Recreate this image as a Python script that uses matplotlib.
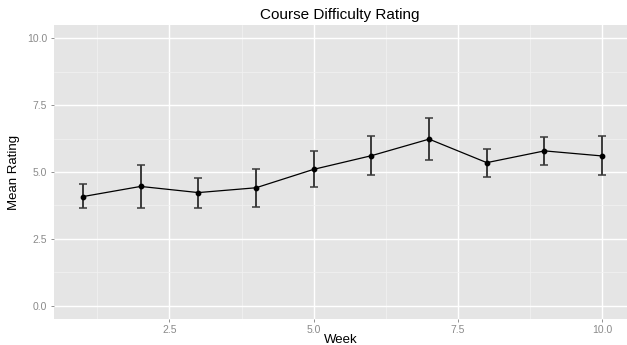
import matplotlib
matplotlib.use('Agg')
import matplotlib.pyplot as plt
from matplotlib.ticker import MultipleLocator

plt.rcParams['font.family'] = ['Liberation Sans', 'DejaVu Sans']

weeks = [1, 2, 3, 4, 5, 6, 7, 8, 9, 10]
mean_rating = [4.08, 4.46, 4.23, 4.41, 5.10, 5.61, 6.23, 5.35, 5.79, 5.60]
upper = [4.56, 5.28, 4.77, 5.12, 5.78, 6.35, 7.01, 5.86, 6.32, 6.35]
lower = [3.64, 3.64, 3.67, 3.70, 4.43, 4.89, 5.44, 4.82, 5.27, 4.87]

err_lo = [m - l for m, l in zip(mean_rating, lower)]
err_hi = [u - m for m, u in zip(mean_rating, upper)]

fig = plt.figure(figsize=(6.27, 3.45), dpi=100)
ax = fig.add_axes([53.5 / 627, 1 - 319 / 345, 1 - 53.5 / 627, (319 - 25) / 345])
ax.set_facecolor('#E5E5E5')

ax.errorbar(weeks, mean_rating, yerr=[err_lo, err_hi], fmt='none',
            ecolor='#3a3a3a', elinewidth=1.4, capsize=2.6, capthick=1.1, zorder=3)
ax.plot(weeks, mean_rating, color='black', lw=0.9, zorder=4)
ax.scatter(weeks, mean_rating, color='black', s=10, zorder=5)

ax.set_xlim(0.49, 10.43)
ax.set_ylim(-0.5, 10.5)
ax.xaxis.set_major_locator(MultipleLocator(2.5))
ax.yaxis.set_major_locator(MultipleLocator(2.5))
ax.xaxis.set_minor_locator(MultipleLocator(1.25))
ax.yaxis.set_minor_locator(MultipleLocator(1.25))
ax.xaxis.set_major_formatter(plt.FormatStrFormatter('%.1f'))
ax.yaxis.set_major_formatter(plt.FormatStrFormatter('%.1f'))
ax.grid(which='major', color='white', lw=1.0)
ax.grid(which='minor', color='#F2F2F2', lw=0.5)
ax.set_axisbelow(True)
for s in ax.spines.values():
    s.set_visible(False)
ax.tick_params(which='major', length=2.5, width=0.6, color='#7F7F7F',
               labelcolor='#8a8a8a', labelsize=7.5, pad=2)
ax.tick_params(which='minor', length=0)

ax.set_title('Course Difficulty Rating', fontsize=11, pad=4)
ax.set_xlabel('Week', fontsize=9.5, labelpad=-1)
ax.set_ylabel('Mean Rating', fontsize=9.5, labelpad=5)

fig.savefig('out.png', dpi=100)
